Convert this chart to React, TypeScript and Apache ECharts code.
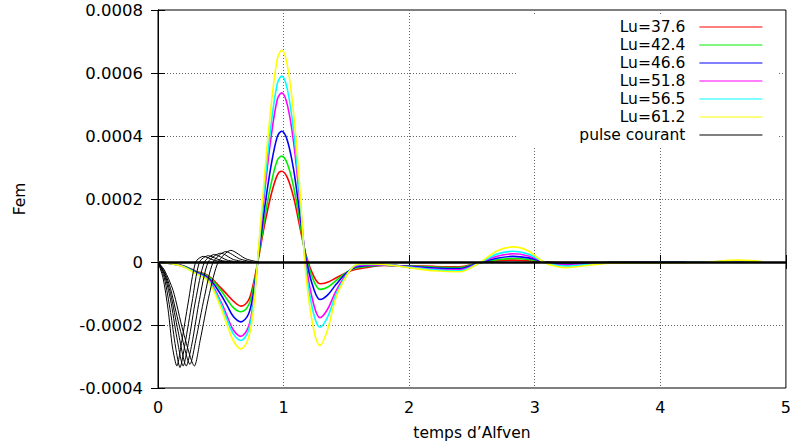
import React, { useEffect, useRef } from "react";
import * as echarts from "echarts";

// ---- data ----
const X_TICK_LABELS = ["0", "1", "2", "3", "4", "5"];
const Y_TICK_LABELS = ["-0.0004", "-0.0002", "0", "0.0002", "0.0004", "0.0006", "0.0008"];

const LU_NAMES = ["Lu=37.6", "Lu=42.4", "Lu=46.6", "Lu=51.8", "Lu=56.5", "Lu=61.2"];
const LU_COLORS = ["#ff0000", "#00ee00", "#0000ff", "#ff00ff", "#00ffff", "#ffff00"];
const PULSE_NAME = "pulse courant";

// time (Alfven times) shared by the Lu curves
const T = [0, 0.1, 0.2, 0.3, 0.4, 0.5, 0.55, 0.6, 0.66, 0.72, 0.76, 0.8, 0.85, 0.9, 0.95, 0.985, 1.03, 1.08, 1.13, 1.18, 1.24, 1.29, 1.35, 1.42, 1.5, 1.57, 1.65, 1.8, 2.0, 2.2, 2.4, 2.55, 2.7, 2.83, 2.95, 3.07, 3.15, 3.25, 3.4, 3.6, 3.9, 4.2, 4.4, 4.6, 4.8];

const FEM_LU376 = [0, -0.05e-4, -0.12e-4, -0.29e-4, -0.43e-4, -0.82e-4, -1.03e-4, -1.24e-4, -1.4e-4, -1.22e-4, -0.68e-4, 0.12e-4, 1.21e-4, 2.12e-4, 2.76e-4, 2.88e-4, 2.68e-4, 2.05e-4, 1.1e-4, 0.2e-4, -0.45e-4, -0.69e-4, -0.64e-4, -0.5e-4, -0.34e-4, -0.24e-4, -0.18e-4, -0.11e-4, -0.12e-4, -0.14e-4, -0.15e-4, -0.03e-4, 0.04e-4, 0.06e-4, 0.04e-4, 0.01e-4, -0.01e-4, -0.02e-4, -0.02e-4, -0.01e-4, 0, 0, 0, 0.01e-4, 0];
const FEM_LU424 = [0, -0.05e-4, -0.13e-4, -0.3e-4, -0.46e-4, -0.9e-4, -1.18e-4, -1.45e-4, -1.58e-4, -1.38e-4, -0.8e-4, 0.15e-4, 1.41e-4, 2.47e-4, 3.23e-4, 3.36e-4, 3.12e-4, 2.38e-4, 1.25e-4, 0.15e-4, -0.6e-4, -0.87e-4, -0.8e-4, -0.58e-4, -0.33e-4, -0.2e-4, -0.15e-4, -0.1e-4, -0.13e-4, -0.16e-4, -0.18e-4, -0.03e-4, 0.07e-4, 0.11e-4, 0.08e-4, 0.01e-4, -0.03e-4, -0.04e-4, -0.03e-4, -0.01e-4, -0.01e-4, 0, 0, 0.01e-4, 0];
const FEM_LU466 = [0, -0.05e-4, -0.13e-4, -0.32e-4, -0.5e-4, -1.03e-4, -1.38e-4, -1.73e-4, -1.9e-4, -1.66e-4, -0.98e-4, 0.2e-4, 1.74e-4, 3.05e-4, 3.98e-4, 4.15e-4, 3.86e-4, 2.93e-4, 1.5e-4, 0.08e-4, -0.85e-4, -1.19e-4, -1.05e-4, -0.7e-4, -0.35e-4, -0.17e-4, -0.12e-4, -0.1e-4, -0.14e-4, -0.19e-4, -0.21e-4, -0.03e-4, 0.12e-4, 0.18e-4, 0.13e-4, 0.01e-4, -0.05e-4, -0.07e-4, -0.05e-4, -0.02e-4, -0.01e-4, -0.01e-4, 0, 0.02e-4, 0];
const FEM_LU518 = [0, -0.05e-4, -0.14e-4, -0.34e-4, -0.55e-4, -1.25e-4, -1.72e-4, -2.16e-4, -2.36e-4, -2.06e-4, -1.24e-4, 0.28e-4, 2.26e-4, 3.95e-4, 5.16e-4, 5.37e-4, 4.99e-4, 3.8e-4, 1.9e-4, -0.1e-4, -1.35e-4, -1.77e-4, -1.5e-4, -0.9e-4, -0.4e-4, -0.14e-4, -0.09e-4, -0.09e-4, -0.16e-4, -0.23e-4, -0.25e-4, -0.04e-4, 0.18e-4, 0.26e-4, 0.19e-4, 0.01e-4, -0.07e-4, -0.1e-4, -0.07e-4, -0.03e-4, -0.02e-4, -0.01e-4, 0, 0.03e-4, 0];
const FEM_LU565 = [0, -0.05e-4, -0.14e-4, -0.35e-4, -0.58e-4, -1.32e-4, -1.83e-4, -2.28e-4, -2.49e-4, -2.18e-4, -1.33e-4, 0.33e-4, 2.48e-4, 4.34e-4, 5.66e-4, 5.9e-4, 5.48e-4, 4.15e-4, 2.05e-4, -0.3e-4, -1.65e-4, -2.07e-4, -1.75e-4, -1.0e-4, -0.42e-4, -0.11e-4, -0.07e-4, -0.08e-4, -0.17e-4, -0.25e-4, -0.28e-4, -0.05e-4, 0.25e-4, 0.34e-4, 0.25e-4, 0.01e-4, -0.09e-4, -0.13e-4, -0.09e-4, -0.03e-4, -0.02e-4, -0.01e-4, 0, 0.04e-4, 0.01e-4];
const FEM_LU612 = [0, -0.05e-4, -0.15e-4, -0.37e-4, -0.61e-4, -1.45e-4, -2.0e-4, -2.5e-4, -2.76e-4, -2.42e-4, -1.5e-4, 0.4e-4, 2.82e-4, 4.94e-4, 6.45e-4, 6.72e-4, 6.24e-4, 4.72e-4, 2.3e-4, -0.5e-4, -2.15e-4, -2.65e-4, -2.15e-4, -1.1e-4, -0.45e-4, -0.1e-4, -0.05e-4, -0.08e-4, -0.18e-4, -0.28e-4, -0.31e-4, -0.05e-4, 0.35e-4, 0.48e-4, 0.35e-4, 0, -0.12e-4, -0.18e-4, -0.12e-4, -0.04e-4, -0.03e-4, -0.02e-4, 0, 0.06e-4, 0.02e-4];

// current pulses (one per Lu)
const PULSE_T1 = [0, 0.04, 0.08, 0.115, 0.15, 0.19, 0.24, 0.3, 0.36, 0.45, 0.55];
const PULSE_F1 = [0, -0.5e-4, -1.5e-4, -2.7e-4, -3.3e-4, -2.5e-4, -1.3e-4, 0, 0.18e-4, 0.05e-4, 0];
const PULSE_T2 = [0, 0.05, 0.1, 0.14, 0.175, 0.215, 0.27, 0.33, 0.4, 0.5, 0.6];
const PULSE_F2 = [0, -0.5e-4, -1.6e-4, -2.7e-4, -3.35e-4, -2.6e-4, -1.3e-4, 0, 0.2e-4, 0.05e-4, 0];
const PULSE_T3 = [0, 0.05, 0.1, 0.15, 0.2, 0.245, 0.3, 0.37, 0.45, 0.55, 0.65];
const PULSE_F3 = [0, -0.4e-4, -1.2e-4, -2.4e-4, -3.3e-4, -2.5e-4, -1.2e-4, 0, 0.24e-4, 0.06e-4, 0];
const PULSE_T4 = [0, 0.05, 0.1, 0.16, 0.225, 0.27, 0.33, 0.4, 0.5, 0.6, 0.7];
const PULSE_F4 = [0, -0.35e-4, -1.0e-4, -2.2e-4, -3.3e-4, -2.6e-4, -1.2e-4, 0, 0.28e-4, 0.08e-4, 0];
const PULSE_T5 = [0, 0.05, 0.1, 0.18, 0.255, 0.3, 0.37, 0.44, 0.54, 0.65, 0.75];
const PULSE_F5 = [0, -0.3e-4, -0.85e-4, -2.2e-4, -3.25e-4, -2.5e-4, -1.1e-4, 0, 0.33e-4, 0.1e-4, 0];
const PULSE_T6 = [0, 0.05, 0.12, 0.2, 0.29, 0.335, 0.41, 0.48, 0.58, 0.7, 0.8];
const PULSE_F6 = [0, -0.25e-4, -0.9e-4, -2.2e-4, -3.3e-4, -2.5e-4, -1.0e-4, 0, 0.37e-4, 0.1e-4, 0];

const LU_SERIES = [FEM_LU376, FEM_LU424, FEM_LU466, FEM_LU518, FEM_LU565, FEM_LU612];
const PULSES = [
  [PULSE_T1, PULSE_F1],
  [PULSE_T2, PULSE_F2],
  [PULSE_T3, PULSE_F3],
  [PULSE_T4, PULSE_F4],
  [PULSE_T5, PULSE_F5],
  [PULSE_T6, PULSE_F6],
];

const FONT = "DejaVu Sans";
const X_MIN = 0, X_MAX = 5, X_STEP = 1;
const Y_MIN = -0.0004, Y_MAX = 0.0008, Y_STEP = 0.0002;

function zip(xs: number[], ys: number[]) {
  return xs.map((x, i) => [x, ys[i]]);
}

export default function App() {
  const ref = useRef<HTMLDivElement>(null);
  useEffect(() => {
    if (!ref.current) return;
    const chart = echarts.init(ref.current, undefined, { renderer: "svg" });

    const luSeries = LU_SERIES.map((ys, i) => ({
      name: LU_NAMES[i],
      type: "line",
      data: zip(T, ys),
      smooth: 0.35,
      symbol: "none",
      lineStyle: { color: LU_COLORS[i], width: 1.6 },
      itemStyle: { color: LU_COLORS[i] },
      z: 3,
    }));
    const pulseSeries = PULSES.map(([xs, ys], i) => ({
      name: PULSE_NAME,
      type: "line",
      data: zip(xs, ys),
      smooth: 0.25,
      symbol: "none",
      lineStyle: { color: "#000", width: 1 },
      itemStyle: { color: "#000" },
      z: 4,
      ...(i === PULSES.length - 1
        ? {
            markLine: {
              silent: true,
              symbol: "none",
              label: { show: false },
              lineStyle: { color: "#000", width: 2.5, type: "solid" },
              data: [{ yAxis: 0 }],
              z: 5,
            },
          }
        : {}),
    }));

    const splitLine = {
      show: true,
      showMinLine: false,
      showMaxLine: false,
      lineStyle: { color: "#666", type: [1, 2], width: 1 },
    };
    const tick = { show: true, inside: true, length: 7, lineStyle: { color: "#000", width: 1 } };

    chart.setOption({
      animation: false,
      backgroundColor: "#fff",
      grid: {
        left: 158,
        top: 10,
        right: 3,
        bottom: 60,
        show: true,
        borderColor: "#000",
        borderWidth: 1,
        backgroundColor: "transparent",
      },
      legend: {
        orient: "vertical",
        right: 17,
        top: 15,
        align: "right",
        itemWidth: 63,
        itemHeight: 14,
        itemGap: 0,
        padding: [3, 14, 3, 62],
        backgroundColor: "#fff",
        data: [...LU_NAMES, PULSE_NAME],
        itemStyle: { opacity: 0 },
        lineStyle: { width: 1.2 },
        textStyle: {
          fontFamily: FONT,
          fontSize: 15.5,
          lineHeight: 18,
          color: "#000",
          padding: [0, 9, 0, 0],
        },
        selectedMode: false,
      },
      xAxis: [
        {
          type: "value",
          min: X_MIN,
          max: X_MAX,
          interval: X_STEP,
          position: "bottom",
          name: "temps d\u2019Alfven",
          nameLocation: "middle",
          nameGap: 37,
          nameTextStyle: { fontFamily: FONT, fontSize: 15.5, color: "#000" },
          axisLine: { show: true, lineStyle: { color: "#000", width: 1 } },
          axisTick: tick,
          axisLabel: {
            fontFamily: FONT,
            fontSize: 16,
            color: "#000",
            margin: 11,
            formatter: (v: number) => X_TICK_LABELS[Math.round((v - X_MIN) / X_STEP)] ?? "",
          },
          splitLine,
        },
        {
          type: "value",
          min: X_MIN,
          max: X_MAX,
          interval: X_STEP,
          position: "top",
          axisLine: { show: true, lineStyle: { color: "#000", width: 1 } },
          axisTick: tick,
          axisLabel: { show: false },
          splitLine: { show: false },
        },
      ],
      yAxis: [
        {
          type: "value",
          min: Y_MIN,
          max: Y_MAX,
          interval: Y_STEP,
          position: "left",
          name: "Fem",
          nameLocation: "middle",
          nameRotate: 90,
          nameGap: 130,
          nameTextStyle: { fontFamily: FONT, fontSize: 15.5, color: "#000" },
          axisLine: { show: true, lineStyle: { color: "#000", width: 1 } },
          axisTick: tick,
          axisLabel: {
            fontFamily: FONT,
            fontSize: 16.5,
            color: "#000",
            margin: 15,
            formatter: (v: number) => Y_TICK_LABELS[Math.round((v - Y_MIN) / Y_STEP)] ?? "",
          },
          splitLine,
        },
        {
          type: "value",
          min: Y_MIN,
          max: Y_MAX,
          interval: Y_STEP,
          position: "right",
          axisLine: { show: true, lineStyle: { color: "#000", width: 1 } },
          axisTick: tick,
          axisLabel: { show: false },
          splitLine: { show: false },
        },
      ],
      series: [...luSeries, ...pulseSeries],
    });

    return () => chart.dispose();
  }, []);

  return (
    <div
      ref={ref}
      style={{ position: "fixed", left: 0, top: 0, width: 794, height: 448, background: "#fff" }}
    />
  );
}
